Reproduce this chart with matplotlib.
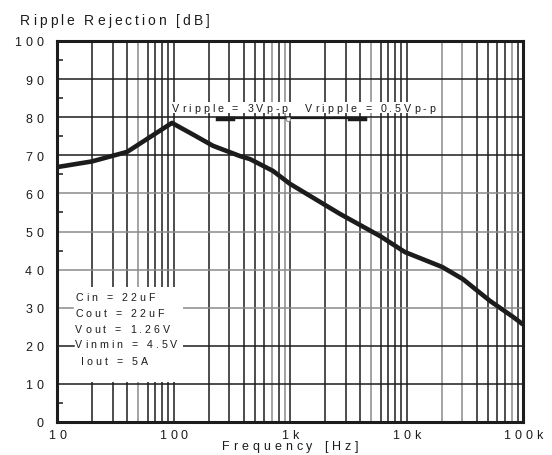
import numpy as np
import matplotlib
matplotlib.use("Agg")
import matplotlib.pyplot as plt
from matplotlib.font_manager import FontProperties, findfont, get_font
from matplotlib.transforms import offset_copy, IdentityTransform
from matplotlib.patches import Rectangle

# ---- data ----
freq_hz = [10, 20, 40, 63, 97, 150, 218, 372, 454, 714, 1000, 2690, 5930,
           9700, 20200, 30500, 52000, 82000, 100000]
rejection_db = [66.9, 68.4, 70.9, 74.8, 78.5, 75.3, 72.5, 69.8, 69.0, 65.9,
                62.5, 54.6, 48.8, 44.6, 40.7, 37.5, 31.8, 27.6, 25.6]

x_tick_vals = [10, 100, 1000, 10000, 100000]
x_tick_labels = ["10", "100", "1k", "10k", "100k"]
y_tick_vals = [0, 10, 20, 30, 40, 50, 60, 70, 80, 90, 100]
y_tick_labels = ["0", "10", "20", "30", "40", "50", "60", "70", "80", "90", "100"]

conditions = ["Cin = 22uF", "Cout = 22uF", "Vout = 1.26V", "Vinmin = 4.5V", "Iout = 5A"]
ripple_labels = ["Vripple = 3Vp-p", "Vripple = 0.5Vp-p"]

DPI = 100
FONT = "Liberation Sans"
INK = "#1c1c1c"
GRAY = "#8a8a8a"

fig = plt.figure(figsize=(5.52, 4.56), dpi=DPI)
ax = fig.add_axes([57 / 552, 33 / 456, 466 / 552, 381 / 456])
ax.set_xscale("log")
ax.set_xlim(10, 1e5)
ax.set_ylim(0, 100)


def advances(s, size):
    fp = FontProperties(family=FONT, size=size)
    font = get_font(findfont(fp))
    font.set_size(size, DPI)
    return [font.load_char(ord(c)).linearHoriAdvance / 65536 for c in s]


def tracked(x, y, s, transform, size, track, ha="left", dx=0, dy=0, color=INK):
    """Draw a string with extra letter spacing (in pixels)."""
    adv = advances(s, size)
    total = sum(adv) + track * (len(s) - 1)
    pos = {"left": 0.0, "center": -total / 2, "right": -total}[ha] + dx
    for c, a in zip(s, adv):
        if c != " ":
            tr = offset_copy(transform, fig=fig, x=pos, y=dy, units="dots")
            ax.text(x, y, c, transform=tr, fontsize=size, family=FONT,
                    color=color, ha="left", va="baseline", clip_on=False,
                    zorder=6)
        pos += a + track


# ---- grid ----
gray_minor = {50, 700, 900, 5000, 20000, 30000, 80000}
for dec in [10, 100, 1000, 10000]:
    for m in range(1, 10):
        f = dec * m
        if f <= 10:
            continue
        ax.axvline(f, color=GRAY if f in gray_minor else INK, lw=1.1, zorder=1)
for v in range(10, 100, 10):
    ax.axhline(v, color=GRAY if v in (30, 40, 50, 60) else INK, lw=1.1, zorder=1)

# white panel behind the operating conditions
ax.add_patch(Rectangle((10, 10.4), 121 - 10, 35.4 - 10.4, facecolor="white",
                       edgecolor="none", zorder=2))
ax.plot([10, 13.7], [30, 30], color=GRAY, lw=1.1, zorder=3)
ax.plot([10, 14.0], [20, 20], color=INK, lw=1.1, zorder=3)

# white strip behind the ripple labels
ax.add_patch(Rectangle((91, 81.1), 18600 - 91, 84.0 - 81.1, facecolor="white",
                       edgecolor="none", zorder=2))

# ---- frame and minor ticks ----
for sp in ax.spines.values():
    sp.set_linewidth(2.2)
    sp.set_color(INK)
    sp.set_zorder(5)
ax.set_xticks([])
ax.set_xticks([], minor=True)
ax.set_yticks(np.arange(5, 100, 10))
ax.set_yticks([], minor=True)
ax.tick_params(axis="y", direction="in", length=4, width=1.1, color=INK,
               labelleft=False, left=True, right=False)

# ---- curve ----
ax.plot(freq_hz, rejection_db, color=INK, lw=3.3, solid_capstyle="butt",
        solid_joinstyle="round", zorder=4)

# ripple level marker line
ax.plot([241, 4490], [79.7, 79.7], color=INK, lw=1.6, zorder=4)
ax.plot([241, 324], [79.5, 79.5], color=INK, lw=3.2, zorder=4)
ax.plot([3270, 4400], [79.5, 79.5], color=INK, lw=3.2, zorder=4)
ax.plot([961], [79.4], marker="o", ms=3, mfc="white", mec=GRAY, mew=0.8, zorder=5)

tracked(97, 81.6, ripple_labels[0], ax.transData, 7.7, 3.0)
tracked(1346, 81.6, ripple_labels[1], ax.transData, 7.7, 3.0)

# ---- operating conditions ----
cond_y = [32.0, 27.8, 23.6, 19.7, 15.2]
cond_x = [14.3, 14.3, 14.3, 14.3, 16.0]
for s, xv, yv in zip(conditions, cond_x, cond_y):
    tracked(xv, yv, s, ax.transData, 7.7, 3.0)

# ---- tick labels ----
ytr = ax.get_yaxis_transform()
for v, s in zip(y_tick_vals, y_tick_labels):
    tracked(0, v, s, ytr, 9, 4.0, ha="right", dx=-14, dy=-4.5)
xtr = ax.get_xaxis_transform()
for v, s in zip(x_tick_vals, x_tick_labels):
    tracked(v, 0, s, xtr, 9, 4.0, ha="center", dy=-16.5)

# ---- axis titles ----
tracked(1000, 0, "Frequency [Hz]", xtr, 9, 4.0, ha="center", dy=-27)
tracked(20, 456 - 25, "Ripple Rejection [dB]", IdentityTransform(), 10, 3.0)

fig.savefig("out.png", dpi=DPI, facecolor="white")
